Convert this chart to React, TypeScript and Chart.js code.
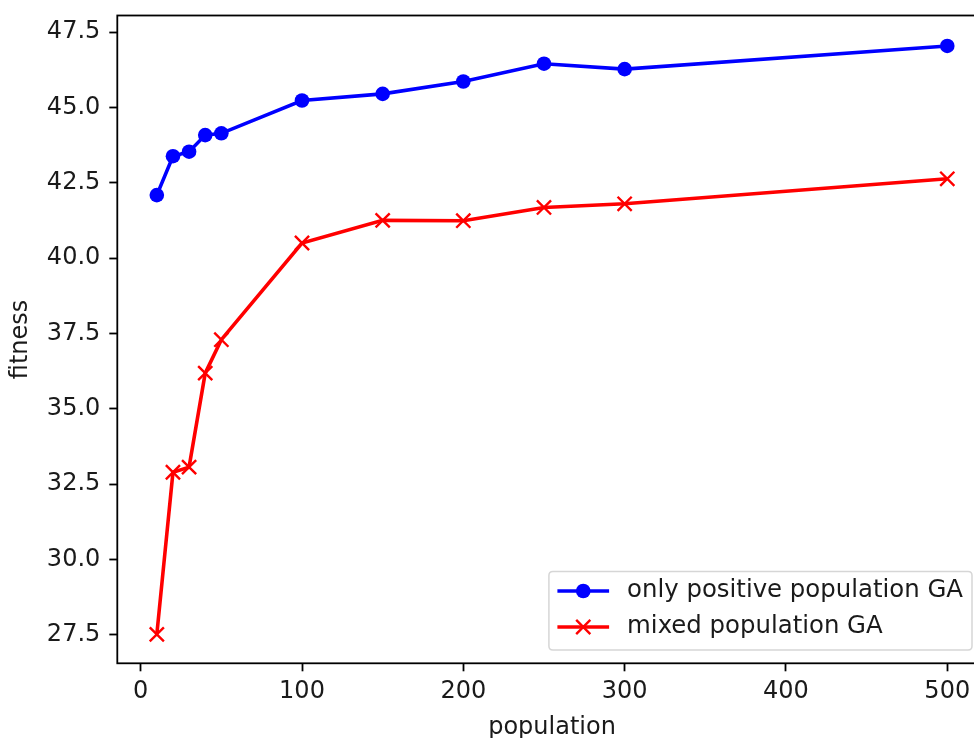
import React, { useEffect, useRef } from "react";
import { Chart, registerables } from "chart.js";

Chart.register(...registerables);

const population = [10, 20, 30, 40, 50, 100, 150, 200, 250, 300, 500];
const positiveFitness = [42.09, 43.38, 43.53, 44.08, 44.14, 45.23, 45.45, 45.86, 46.45, 46.27, 47.04];
const mixedFitness = [27.51, 32.89, 33.06, 36.18, 37.29, 40.5, 41.25, 41.24, 41.68, 41.8, 42.63];
const seriesLabels = ["only positive population GA", "mixed population GA"];
const xTicks = [0, 100, 200, 300, 400, 500];
const yTicks = [27.5, 30.0, 32.5, 35.0, 37.5, 40.0, 42.5, 45.0, 47.5];
const xTitle = "population";
const yTitle = "fitness";

const FONT = "DejaVu Sans";
const FS = 24;
const LEGEND_FS = 24.4;
const TEXT = "#1a1a1a";

const framePlugin = {
  id: "frame",
  afterDatasetsDraw(chart: any) {
    const { ctx, chartArea } = chart;
    ctx.save();
    ctx.strokeStyle = "#000";
    ctx.lineWidth = 1.8;
    ctx.strokeRect(chartArea.left, chartArea.top, chartArea.right - chartArea.left, chartArea.bottom - chartArea.top);
    ctx.restore();
  },
  afterDraw(chart: any) {
    const { ctx, chartArea } = chart;
    ctx.save();
    ctx.fillStyle = TEXT;
    ctx.font = `${FS}px "${FONT}"`;
    // x title
    ctx.textAlign = "center";
    ctx.textBaseline = "alphabetic";
    ctx.fillText(xTitle, (chartArea.left + chartArea.right) / 2, 734);
    // y title
    ctx.save();
    ctx.translate(21, (chartArea.top + chartArea.bottom) / 2);
    ctx.rotate(-Math.PI / 2);
    ctx.textAlign = "center";
    ctx.textBaseline = "middle";
    ctx.fillText(yTitle, 0, 0);
    ctx.restore();

    // legend
    ctx.font = `${LEGEND_FS}px "${FONT}"`;
    const ds = chart.data.datasets;
    const widths = ds.map((d: any) => ctx.measureText(d.label).width);
    const maxW = Math.max(...widths);
    const boxW = 8.5 + 51.7 + 18 + maxW + 9;
    const rowGap = 36;
    const boxH = 19.5 + rowGap * (ds.length - 1) + 23;
    const right = chartArea.right - 14.8;
    const bottom = chartArea.bottom - 13.3;
    const left = right - boxW;
    const top = bottom - boxH;
    ctx.beginPath();
    const r = 4;
    ctx.moveTo(left + r, top);
    ctx.lineTo(right - r, top);
    ctx.quadraticCurveTo(right, top, right, top + r);
    ctx.lineTo(right, bottom - r);
    ctx.quadraticCurveTo(right, bottom, right - r, bottom);
    ctx.lineTo(left + r, bottom);
    ctx.quadraticCurveTo(left, bottom, left, bottom - r);
    ctx.lineTo(left, top + r);
    ctx.quadraticCurveTo(left, top, left + r, top);
    ctx.closePath();
    ctx.fillStyle = "rgba(255,255,255,0.8)";
    ctx.fill();
    ctx.strokeStyle = "#d6d6d6";
    ctx.lineWidth = 1.5;
    ctx.stroke();

    ds.forEach((d: any, i: number) => {
      const cy = top + 19.5 + i * rowGap;
      const x0 = left + 8.5;
      const x1 = x0 + 51.7;
      const cx = (x0 + x1) / 2;
      ctx.strokeStyle = d.borderColor;
      ctx.lineWidth = d.borderWidth;
      ctx.beginPath();
      ctx.moveTo(x0, cy);
      ctx.lineTo(x1, cy);
      ctx.stroke();
      const pr = d.pointRadius;
      if (d.pointStyle === "circle") {
        ctx.fillStyle = d.pointBackgroundColor;
        ctx.beginPath();
        ctx.arc(cx, cy, pr, 0, Math.PI * 2);
        ctx.fill();
      } else {
        ctx.lineWidth = d.pointBorderWidth;
        ctx.strokeStyle = d.pointBorderColor;
        const o = pr * Math.SQRT1_2;
        ctx.beginPath();
        ctx.moveTo(cx - o, cy - o);
        ctx.lineTo(cx + o, cy + o);
        ctx.moveTo(cx - o, cy + o);
        ctx.lineTo(cx + o, cy - o);
        ctx.stroke();
      }
      ctx.fillStyle = TEXT;
      ctx.textAlign = "left";
      ctx.textBaseline = "middle";
      ctx.fillText(d.label, x1 + 18, cy);
    });
    ctx.restore();
  },
};

export default function App() {
  const ref = useRef<HTMLCanvasElement>(null);
  useEffect(() => {
    const canvas = ref.current!;
    const chart = new Chart(canvas, {
      type: "line",
      data: {
        datasets: [
          {
            label: seriesLabels[0],
            data: population.map((x, i) => ({ x, y: positiveFitness[i] })),
            borderColor: "#0000ff",
            backgroundColor: "#0000ff",
            borderWidth: 3.6,
            pointStyle: "circle",
            pointRadius: 7.3,
            pointBackgroundColor: "#0000ff",
            pointBorderColor: "#0000ff",
            pointBorderWidth: 0,
            tension: 0,
            fill: false,
          },
          {
            label: seriesLabels[1],
            data: population.map((x, i) => ({ x, y: mixedFitness[i] })),
            borderColor: "#ff0000",
            backgroundColor: "#ff0000",
            borderWidth: 3.6,
            pointStyle: "crossRot",
            pointRadius: 10,
            pointBackgroundColor: "#ff0000",
            pointBorderColor: "#ff0000",
            pointBorderWidth: 2.4,
            tension: 0,
            fill: false,
          },
        ],
      },
      options: {
        animation: false,
        responsive: false,
        devicePixelRatio: 1,
        layout: { padding: { left: 0, top: 15.5, right: 13.2, bottom: 0 } },
        plugins: {
          legend: { display: false },
          tooltip: { enabled: false },
        },
        scales: {
          x: {
            type: "linear",
            min: -14.5,
            max: 524.5,
            afterBuildTicks: (s: any) => {
              s.ticks = xTicks.map((v) => ({ value: v }));
            },
            afterFit: (s: any) => {
              s.height = 738 - 663.3;
              s.paddingLeft = 0;
              s.paddingRight = 0;
            },
            ticks: {
              font: { family: FONT, size: FS },
              color: TEXT,
              padding: 6,
              maxRotation: 0,
              autoSkip: false,
              callback: (v: any) => String(v),
            },
            grid: { drawOnChartArea: false, drawTicks: true, tickLength: 8, tickColor: "#000", tickWidth: 1.8 },
            border: { display: false },
          },
          y: {
            type: "linear",
            min: 26.55,
            max: 48.05,
            afterBuildTicks: (s: any) => {
              s.ticks = yTicks.map((v) => ({ value: v }));
            },
            afterFit: (s: any) => {
              s.width = 117.3;
              s.paddingTop = 0;
              s.paddingBottom = 0;
            },
            ticks: {
              font: { family: FONT, size: FS },
              color: TEXT,
              padding: 9,
              autoSkip: false,
              callback: (v: any) => Number(v).toFixed(1),
            },
            grid: { drawOnChartArea: false, drawTicks: true, tickLength: 8, tickColor: "#000", tickWidth: 1.8 },
            border: { display: false },
          },
        },
      },
      plugins: [framePlugin],
    });
    return () => chart.destroy();
  }, []);
  return (
    <div style={{ position: "fixed", left: 0, top: 0, width: 974, height: 738, overflow: "hidden", background: "#fff" }}>
      <canvas ref={ref} width={1000} height={738} style={{ width: 1000, height: 738, display: "block" }} />
    </div>
  );
}
